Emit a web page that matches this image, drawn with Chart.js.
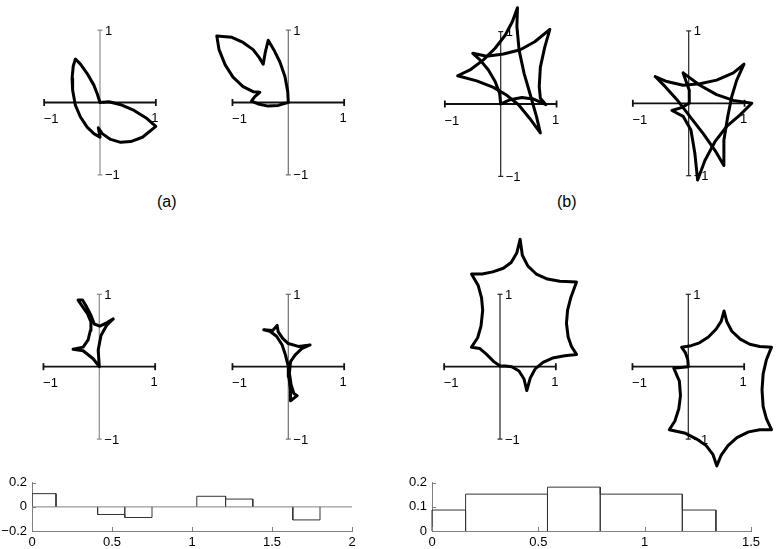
<!DOCTYPE html>
<html>
<head>
<meta charset="utf-8">
<script src="https://cdn.jsdelivr.net/npm/chart.js@4.4.0/dist/chart.umd.min.js"></script>
<style>
  html, body { margin: 0; padding: 0; background: #fff; }
  #fig { position: relative; width: 778px; height: 549px; overflow: hidden; font-family: "Liberation Sans", Arial, sans-serif; }
  #fig canvas { position: absolute; }
  .lbl { position: absolute; font-size: 16px; line-height: 18px; color: #000; }
</style>
</head>
<body>
<div id="fig">
  <div class="lbl" style="left:157px;top:193px">(a)</div>
  <div class="lbl" style="left:557px;top:193px">(b)</div>
</div>
<script>
// curves (x, y in axis units)
const curveA1 = [[0,0],[-0.05,0.12],[-0.11,0.24],[-0.23,0.40],[-0.35,0.53],[-0.44,0.60],[-0.48,0.50],[-0.50,0.33],[-0.49,0.17],[-0.44,-0.04],[-0.35,-0.20],[-0.23,-0.34],[-0.11,-0.43],[0,-0.48],[-0.03,-0.35],[0.04,-0.43],[0.19,-0.51],[0.37,-0.55],[0.55,-0.54],[0.76,-0.48],[1.0,-0.33],[0.82,-0.21],[0.61,-0.11],[0.37,-0.03],[0.16,0.01],[0,0]];
const curveA2 = [[0,0],[-0.01,0.15],[-0.06,0.36],[-0.15,0.56],[-0.26,0.73],[-0.36,0.86],[-0.41,0.70],[-0.45,0.53],[-0.52,0.62],[-0.63,0.73],[-0.81,0.83],[-1.01,0.90],[-1.28,0.92],[-1.24,0.73],[-1.13,0.52],[-0.99,0.35],[-0.81,0.22],[-0.63,0.15],[-0.51,0.14],[-0.60,0.08],[-0.66,0.02],[-0.54,-0.02],[-0.36,-0.05],[-0.18,-0.04],[-0.06,-0.01],[0,0]];
const curveB1a = [[-0.77,0.39],[-0.55,0.47],[-0.31,0.61],[-0.10,0.77],[0.08,0.95],[0.21,1.14],[0.30,1.33],[0.29,1.07],[0.33,0.74],[0.42,0.42],[0.54,0.10],[0.64,-0.17],[0.71,-0.40],[0.52,-0.20],[0.32,-0.01],[0.11,0.12],[-0.13,0.23],[-0.43,0.32],[-0.77,0.39]];
const curveB1b = [[0,0],[-0.02,0.15],[-0.10,0.31],[-0.22,0.47],[-0.37,0.61],[-0.50,0.70],[-0.25,0.66],[0.05,0.69],[0.35,0.75],[0.61,0.86],[0.88,1.03],[0.79,0.79],[0.71,0.51],[0.69,0.24],[0.71,0.08],[0.81,-0.01],[0.58,0.07],[0.38,0.09],[0.17,0.06],[0,0]];
const curveB2a = [[-0.60,0.37],[-0.39,0.30],[-0.10,0.25],[0.20,0.27],[0.50,0.32],[0.80,0.42],[0.99,0.54],[0.86,0.32],[0.77,0.09],[0.70,-0.18],[0.63,-0.51],[0.63,-0.86],[0.47,-0.65],[0.26,-0.42],[0.02,-0.18],[-0.21,0.05],[-0.42,0.23],[-0.60,0.37]];
const curveB2b = [[-0.10,0.42],[0.20,0.25],[0.50,0.12],[0.80,0.04],[1.13,0],[0.92,-0.16],[0.68,-0.32],[0.47,-0.53],[0.29,-0.79],[0.16,-1.06],[0.11,-0.69],[0.04,-0.37],[-0.10,-0.18],[-0.30,-0.10],[-0.13,-0.06],[0.01,0],[0.01,0.18],[-0.10,0.42]];
const curveC1 = [[0,0],[-0.11,0.11],[-0.29,0.22],[-0.47,0.24],[-0.29,0.27],[-0.20,0.37],[-0.16,0.50],[-0.15,0.62],[-0.21,0.73],[-0.30,0.83],[-0.38,0.92],[-0.30,0.92],[-0.23,0.83],[-0.15,0.71],[-0.09,0.59],[0.01,0.56],[0.14,0.61],[0.25,0.66],[0.13,0.57],[0.03,0.43],[-0.02,0.23],[0,0]];
const curveC2 = [[0,0],[-0.05,0.16],[-0.11,0.30],[-0.21,0.42],[-0.33,0.49],[-0.44,0.51],[-0.28,0.50],[-0.20,0.57],[-0.18,0.48],[-0.10,0.39],[0,0.32],[0.18,0.28],[0.39,0.30],[0.24,0.25],[0.12,0.16],[0.04,0.07],[0.02,-0.09],[0.05,-0.25],[0.10,-0.37],[0.16,-0.40],[0.04,-0.47],[0.04,-0.32],[0.01,-0.14],[0,0]];
const curveD1 = [[0,0.01],[-0.11,0.07],[-0.24,0.17],[-0.36,0.25],[-0.51,0.27],[-0.40,0.40],[-0.34,0.56],[-0.31,0.78],[-0.33,0.95],[-0.39,1.12],[-0.51,1.28],[-0.32,1.28],[-0.13,1.31],[0.06,1.36],[0.20,1.44],[0.30,1.57],[0.36,1.76],[0.40,1.54],[0.50,1.39],[0.65,1.28],[0.85,1.21],[1.07,1.18],[1.37,1.17],[1.27,0.96],[1.21,0.78],[1.19,0.60],[1.22,0.41],[1.28,0.28],[1.37,0.17],[1.16,0.15],[0.94,0.12],[0.77,0.06],[0.63,-0.03],[0.54,-0.16],[0.48,-0.33],[0.43,-0.17],[0.34,-0.06],[0.21,0.00],[0.09,0.01],[0,0.01]];
const curveD2 = [[0,0],[-0.01,0.10],[-0.05,0.19],[-0.12,0.27],[0.05,0.29],[0.20,0.33],[0.36,0.41],[0.50,0.52],[0.59,0.63],[0.64,0.77],[0.69,0.62],[0.78,0.49],[0.93,0.38],[1.10,0.31],[1.28,0.28],[1.49,0.27],[1.40,0.10],[1.34,-0.10],[1.32,-0.32],[1.34,-0.55],[1.40,-0.72],[1.49,-0.87],[1.28,-0.87],[1.08,-0.90],[0.87,-0.98],[0.71,-1.09],[0.59,-1.22],[0.51,-1.37],[0.44,-1.21],[0.32,-1.09],[0.15,-1.00],[-0.05,-0.92],[-0.34,-0.87],[-0.24,-0.75],[-0.17,-0.58],[-0.14,-0.40],[-0.16,-0.20],[-0.26,-0.02],[-0.14,-0.01],[0,0]];

const crossTickLabels = ['\u22121', '1'];

// histograms
const leftBinStart = [0, 0.41, 0.58, 1.03, 1.21, 1.63];
const leftBinEnd   = [0.15, 0.58, 0.75, 1.21, 1.38, 1.80];
const leftBinValue = [0.11, -0.063, -0.088, 0.088, 0.065, -0.108];
const leftXTicks = [0, 0.5, 1, 1.5, 2];
const leftYTicks = [-0.2, 0, 0.2];

const rightBinStart = [0, 0.158, 0.543, 0.791, 1.177];
const rightBinEnd   = [0.158, 0.543, 0.791, 1.177, 1.335];
const rightBinValue = [0.087, 0.153, 0.182, 0.153, 0.087];
const rightXTicks = [0, 0.5, 1, 1.5];
const rightYTicks = [0, 0.1, 0.2];

const FONT = '"Liberation Sans", Arial, sans-serif';
Chart.defaults.font.family = FONT;
Chart.defaults.color = '#000';

const UNIT_X = 55.85, UNIT_Y = 72.4;
const fig = document.getElementById('fig');

const crossAxes = {
  id: 'crossAxes',
  beforeDatasetsDraw(chart, args, opts) {
    const { ctx, scales: { x, y } } = chart;
    const x0 = x.getPixelForValue(0), y0 = y.getPixelForValue(0);
    const xl = x.getPixelForValue(-1), xr = x.getPixelForValue(1);
    const yt = y.getPixelForValue(1), yb = y.getPixelForValue(-1);
    const seg = (a, b, c, d) => { ctx.beginPath(); ctx.moveTo(a, b); ctx.lineTo(c, d); ctx.stroke(); };
    ctx.save();
    ctx.strokeStyle = opts.vColor;
    ctx.lineWidth = 1.2;
    seg(x0, yt, x0, yb);
    seg(x0 - 2.5, yt, x0 + 2.5, yt);
    seg(x0 - 2.5, yb, x0 + 2.5, yb);
    ctx.strokeStyle = '#111';
    ctx.lineWidth = 1.8;
    seg(xl, y0, xr, y0);
    seg(xl, y0 - 3.5, xl, y0 + 3.5);
    seg(xr, y0 - 3.5, xr, y0 + 3.5);
    ctx.fillStyle = '#000';
    ctx.font = '13px ' + FONT;
    ctx.textAlign = 'center';
    ctx.textBaseline = 'middle';
    ctx.fillText(crossTickLabels[0], xl + 7, y0 + 17);
    ctx.fillText(crossTickLabels[1], xr - 1, y0 + 16);
    ctx.textAlign = 'left';
    ctx.fillText(crossTickLabels[1], x0 + 5, yt + 1);
    ctx.fillText(crossTickLabels[0], x0 + 5, yb + 1);
    ctx.restore();
  }
};

function makePanel(curves, cx, cy, top, h, vColor) {
  const w = 188;
  const left = Math.round(cx - w / 2);
  const c = document.createElement('canvas');
  c.width = w; c.height = h;
  c.style.left = left + 'px'; c.style.top = top + 'px';
  fig.appendChild(c);
  new Chart(c, {
    type: 'scatter',
    data: {
      datasets: curves.map(pts => ({
        data: pts.map(([x, y]) => ({ x, y })),
        showLine: true, borderColor: '#000', borderWidth: 3, pointRadius: 0,
        tension: 0, clip: false, borderJoinStyle: 'round', borderCapStyle: 'round'
      }))
    },
    options: {
      responsive: false, animation: false, events: [],
      layout: { padding: 0 },
      plugins: { legend: { display: false }, tooltip: { enabled: false }, crossAxes: { vColor } },
      scales: {
        x: { type: 'linear', display: false, min: (left - cx) / UNIT_X, max: (left + w - cx) / UNIT_X },
        y: { type: 'linear', display: false, min: (cy - top - h) / UNIT_Y, max: (cy - top) / UNIT_Y }
      }
    },
    plugins: [crossAxes]
  });
}

makePanel([curveA1], 100, 102.5, 0, 200, '#8c8c8c');
makePanel([curveA2], 288.3, 102.5, 0, 200, '#6e6e6e');
makePanel([curveB1a, curveB1b], 500.7, 104, 0, 200, '#222');
makePanel([curveB2a, curveB2b], 688.7, 103.3, 0, 200, '#222');
makePanel([curveC1], 99.3, 366.7, 225, 250, '#8c8c8c');
makePanel([curveC2], 288.3, 366.7, 225, 250, '#6e6e6e');
makePanel([curveD1], 500, 366.7, 225, 250, '#222');
makePanel([curveD2], 688.3, 366.7, 225, 250, '#222');

function stairs(starts, ends, vals) {
  const pts = [];
  starts.forEach((s, i) => {
    if (i > 0 && s !== ends[i - 1]) pts.push({ x: s, y: null });
    pts.push({ x: s, y: 0 }, { x: s, y: vals[i] }, { x: ends[i], y: vals[i] }, { x: ends[i], y: 0 });
  });
  return pts;
}

const innerTicks = {
  id: 'innerTicks',
  afterDraw(chart) {
    const { ctx, chartArea: a, scales: { x, y } } = chart;
    ctx.save();
    ctx.strokeStyle = '#808080';
    ctx.lineWidth = 1;
    x.ticks.forEach(t => {
      const px = Math.round(x.getPixelForValue(t.value)) + 0.5;
      ctx.beginPath(); ctx.moveTo(px, a.bottom); ctx.lineTo(px, a.bottom - 4); ctx.stroke();
    });
    y.ticks.forEach(t => {
      const py = Math.round(y.getPixelForValue(t.value)) + 0.5;
      ctx.beginPath(); ctx.moveTo(a.left, py); ctx.lineTo(a.left + 4, py); ctx.stroke();
    });
    ctx.restore();
  }
};

function makeHist(left, xMax, xTicks, yMin, yMax, yTicks, datasets) {
  const c = document.createElement('canvas');
  c.width = 370; c.height = 79;
  c.style.left = left + 'px'; c.style.top = '470px';
  fig.appendChild(c);
  new Chart(c, {
    type: 'scatter',
    data: { datasets },
    options: {
      responsive: false, animation: false, events: [],
      layout: { padding: { top: 8, right: 370 - (left === 0 ? 352 : 751 - 400), left: 0, bottom: 0 } },
      plugins: { legend: { display: false }, tooltip: { enabled: false } },
      scales: {
        x: {
          type: 'linear', min: 0, max: xMax,
          afterBuildTicks: s => { s.ticks = xTicks.map(v => ({ value: v })); },
          afterFit: s => { s.height = 18; },
          grid: { display: false, drawTicks: false },
          border: { display: true, color: '#808080', width: 1 },
          ticks: { padding: 4, maxRotation: 0, autoSkip: false, font: { size: 13 }, color: '#000',
                   callback: v => String(v) }
        },
        y: {
          type: 'linear', min: yMin, max: yMax,
          afterBuildTicks: s => { s.ticks = yTicks.map(v => ({ value: v })); },
          afterFit: s => { s.width = 32; },
          grid: { display: false, drawTicks: false },
          border: { display: true, color: '#808080', width: 1 },
          ticks: { padding: 5, autoSkip: false, font: { size: 13 }, color: '#000',
                   callback: v => String(v).replace('-', '\u2212') }
        }
      }
    },
    plugins: [innerTicks]
  });
}

makeHist(0, 2, leftXTicks, -0.2, 0.2, leftYTicks, [
  { data: [{ x: 0, y: 0 }, { x: 2, y: 0 }], showLine: true, borderColor: '#808080', borderWidth: 1, pointRadius: 0 },
  { data: stairs(leftBinStart, leftBinEnd, leftBinValue), showLine: true, spanGaps: false, borderColor: '#333', borderWidth: 1, pointRadius: 0 }
]);
makeHist(400, 1.5, rightXTicks, 0, 0.2, rightYTicks, [
  { data: stairs(rightBinStart, rightBinEnd, rightBinValue), showLine: true, spanGaps: false, borderColor: '#333', borderWidth: 1, pointRadius: 0, clip: false }
]);
</script>
</body>
</html>
